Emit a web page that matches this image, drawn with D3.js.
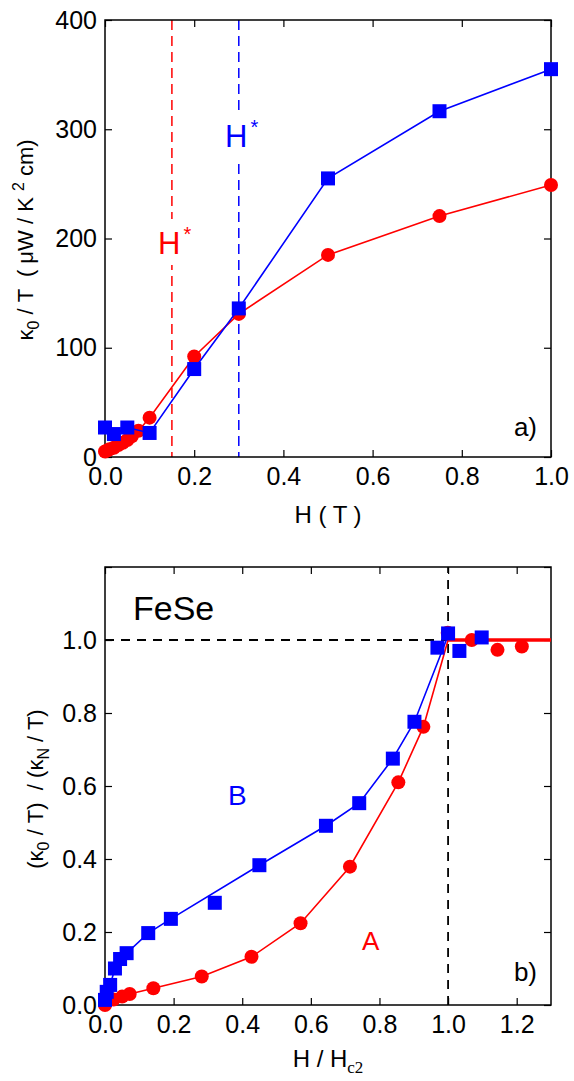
<!DOCTYPE html>
<html>
<head>
<meta charset="utf-8">
<title>FeSe thermal conductivity</title>
<script src="https://d3js.org/d3.v7.min.js"></script>
<style>
  body { margin: 0; background: #fff; }
  svg text { font-family: "Liberation Sans", Arial, sans-serif; white-space: pre; }
</style>
</head>
<body>
<svg width="574" height="1081"></svg>
<script>
// ---- panel a) : kappa0/T vs H (T) ----
var fieldA = [0, 0.005, 0.01, 0.02, 0.03, 0.04, 0.05, 0.06, 0.075, 0.1, 0.2, 0.3, 0.5, 0.75, 1.0];
var kappaA = [5, 6, 7, 8.5, 11, 13, 15.5, 19, 24, 36, 92, 131, 185, 220.5, 249];
var fieldB = [0, 0.02, 0.05, 0.1, 0.2, 0.3, 0.5, 0.75, 1.0];
var kappaB = [27, 21, 27, 22, 80.5, 136, 255, 316.5, 355];
var hStarA = 0.15, hStarB = 0.3;
var topXTicks = [0, 0.2, 0.4, 0.6, 0.8, 1.0];
var topYTicks = [0, 100, 200, 300, 400];

// ---- panel b) : normalised kappa0/T vs H/Hc2 ----
var hRedA = [0, 0.025, 0.05, 0.072, 0.141, 0.282, 0.427, 0.57, 0.714, 0.855, 0.928, 0.999, 1.069, 1.144, 1.215];
var ratioA = [0.0, 0.015, 0.023, 0.03, 0.046, 0.078, 0.132, 0.224, 0.379, 0.61, 0.762, 1.02, 1.0, 0.973, 0.982];
var hRedLine = [0, 0.05, 0.072, 0.141, 0.282, 0.427, 0.57, 0.714, 0.855, 0.928, 1.0];
var ratioLineA = [0, 0.023, 0.03, 0.046, 0.078, 0.132, 0.224, 0.379, 0.61, 0.762, 1.0];
var hNormal = [1.0, 1.3];
var ratioNormal = [1.0, 1.0];
var hBlueB = [0, 0.005, 0.015, 0.029, 0.044, 0.063, 0.126, 0.192, 0.32, 0.45, 0.644, 0.741, 0.839, 0.902, 0.969, 1.0, 1.033, 1.098];
var ratioB = [0.014, 0.036, 0.055, 0.10, 0.126, 0.142, 0.197, 0.236, 0.28, 0.383, 0.491, 0.553, 0.675, 0.776, 0.979, 1.018, 0.970, 1.007];
var hBlueLine = [0, 0.015, 0.029, 0.063, 0.126, 0.192, 0.45, 0.644, 0.741, 0.839, 0.902, 0.995];
var ratioLineB = [0, 0.055, 0.10, 0.142, 0.197, 0.236, 0.383, 0.491, 0.553, 0.675, 0.776, 1.0];
var botXTicks = [0, 0.2, 0.4, 0.6, 0.8, 1.0, 1.2];
var botYTicks = [0, 0.2, 0.4, 0.6, 0.8, 1.0, 1.2];

var RED = "#ff0000", BLUE = "#0000ff";
var svg = d3.select("svg");

function zip(xs, ys) { return xs.map(function(d, i) { return [d, ys[i]]; }); }

function frame(g, x, y, xt, yt, yfmt) {
  var w = x.range()[1] - x.range()[0], h = y.range()[0] - y.range()[1];
  var ax = g.append("g").attr("transform", "translate(0," + h + ")")
    .call(d3.axisBottom(x).tickValues(xt).tickSize(-7).tickPadding(10).tickFormat(d3.format(".1f")));
  var ay = g.append("g")
    .call(d3.axisLeft(y).tickValues(yt).tickSize(-7).tickPadding(8).tickFormat(yfmt));
  var at = g.append("g").call(d3.axisTop(x).tickValues(xt).tickSize(-7).tickFormat(""));
  var ar = g.append("g").attr("transform", "translate(" + w + ",0)")
    .call(d3.axisRight(y).tickValues(yt).tickSize(-7).tickFormat(""));
  [ax, ay, at, ar].forEach(function(a) {
    a.select(".domain").remove();
    a.selectAll("text").attr("font-size", 25).attr("fill", "#000")
      .attr("font-family", "Liberation Sans, Arial, sans-serif");
    a.selectAll("line").attr("stroke", "#000").attr("stroke-width", 1.2);
  });
  g.append("rect").attr("width", w).attr("height", h)
    .attr("fill", "none").attr("stroke", "#000").attr("stroke-width", 1.5);
}

function series(g, x, y, pts, color, width) {
  g.append("path").datum(pts)
    .attr("fill", "none").attr("stroke", color).attr("stroke-width", width)
    .attr("d", d3.line().x(function(d) { return x(d[0]); }).y(function(d) { return y(d[1]); }));
}
function circles(g, x, y, pts) {
  g.append("g").selectAll("circle").data(pts).enter().append("circle")
    .attr("cx", function(d) { return x(d[0]); }).attr("cy", function(d) { return y(d[1]); })
    .attr("r", 7).attr("fill", RED);
}
function squares(g, x, y, pts) {
  g.append("g").selectAll("rect").data(pts).enter().append("rect")
    .attr("x", function(d) { return x(d[0]) - 7; }).attr("y", function(d) { return y(d[1]) - 7; })
    .attr("width", 14).attr("height", 14).attr("fill", BLUE);
}
function hstar(g, xc, yb, color) {
  var t = g.append("text").attr("x", xc).attr("y", yb).attr("fill", color).attr("font-size", 31);
  t.append("tspan").text("H");
  t.append("tspan").attr("dx", 3).attr("dy", -13).attr("font-size", 20).text("*");
  var bb = t.node().getBBox();
  g.insert("rect", "text").attr("x", bb.x - 2).attr("y", bb.y - 4)
    .attr("width", bb.width + 4).attr("height", bb.height + 8).attr("fill", "#fff");
  g.node().appendChild(t.node());
}

// ===== panel a =====
var xa = d3.scaleLinear().domain([0, 1.0]).range([0, 446]);
var ya = d3.scaleLinear().domain([0, 400]).range([437, 0]);
var ga = svg.append("g").attr("transform", "translate(105,20)");

ga.append("line").attr("x1", xa(hStarA)).attr("x2", xa(hStarA)).attr("y1", 0).attr("y2", ya(0))
  .attr("stroke", RED).attr("stroke-width", 1.5).attr("stroke-dasharray", "10,6");
ga.append("line").attr("x1", xa(hStarB)).attr("x2", xa(hStarB)).attr("y1", 0).attr("y2", ya(0))
  .attr("stroke", BLUE).attr("stroke-width", 1.5).attr("stroke-dasharray", "10,6");
var la = ga.append("g");
hstar(la, 53, 234, RED);
hstar(la, 120, 127, BLUE);

frame(ga, xa, ya, topXTicks, topYTicks, d3.format("d"));

var redA = zip(fieldA, kappaA), blueA = zip(fieldB, kappaB);
series(ga, xa, ya, redA, RED, 1.6);
circles(ga, xa, ya, redA);
series(ga, xa, ya, blueA, BLUE, 1.6);
squares(ga, xa, ya, blueA);

ga.append("text").attr("x", 432).attr("y", 416).attr("text-anchor", "end")
  .attr("font-size", 26).text("a)");
ga.append("text").attr("x", 223).attr("y", 503).attr("text-anchor", "middle")
  .attr("font-size", 24).text("H ( T )");
var ta = ga.append("text").attr("transform", "translate(-72," + 220 + ") rotate(-90)")
  .attr("text-anchor", "middle").attr("font-size", 22);
ta.append("tspan").text("\u03ba");
ta.append("tspan").attr("dy", 6).attr("font-size", 16).text("0");
ta.append("tspan").attr("dy", -6).text(" / T  ( \u03bcW / K ");
ta.append("tspan").attr("dy", -9).attr("font-size", 16).text("2");
ta.append("tspan").attr("dy", 9).text(" cm)");

// ===== panel b =====
var xb = d3.scaleLinear().domain([0, 1.3]).range([0, 446]);
var yb = d3.scaleLinear().domain([0, 1.2]).range([438, 0]);
var gb = svg.append("g").attr("transform", "translate(105,567)");

gb.append("line").attr("x1", xb(0)).attr("x2", xb(1.0)).attr("y1", yb(1.0)).attr("y2", yb(1.0))
  .attr("stroke", "#000").attr("stroke-width", 1.8).attr("stroke-dasharray", "9,7");
gb.append("line").attr("x1", xb(1.0)).attr("x2", xb(1.0)).attr("y1", yb(0)).attr("y2", yb(1.2))
  .attr("stroke", "#000").attr("stroke-width", 1.8).attr("stroke-dasharray", "9,7");

frame(gb, xb, yb, botXTicks, botYTicks, function(d) { return d > 1.1 ? "" : d3.format(".1f")(d); });

series(gb, xb, yb, zip(hRedLine, ratioLineA), RED, 1.6);
series(gb, xb, yb, zip(hNormal, ratioNormal), RED, 3.5);
circles(gb, xb, yb, zip(hRedA, ratioA));
series(gb, xb, yb, zip(hBlueLine, ratioLineB), BLUE, 1.6);
squares(gb, xb, yb, zip(hBlueB, ratioB));

gb.append("text").attr("x", 28).attr("y", 53).attr("font-size", 34).text("FeSe");
gb.append("text").attr("x", 123).attr("y", 238).attr("fill", BLUE).attr("font-size", 28).text("B");
gb.append("text").attr("x", 257).attr("y", 383).attr("fill", RED).attr("font-size", 26).text("A");
gb.append("text").attr("x", 432).attr("y", 414).attr("text-anchor", "end")
  .attr("font-size", 26).text("b)");
var xtb = gb.append("text").attr("x", 223).attr("y", 500).attr("text-anchor", "middle").attr("font-size", 24);
xtb.append("tspan").text("H / H");
xtb.append("tspan").attr("dy", 6).attr("font-size", 17)
  .attr("font-family", "Liberation Serif, Times New Roman, serif").text("c2");
var tb = gb.append("text").attr("transform", "translate(-62," + 222 + ") rotate(-90)")
  .attr("text-anchor", "middle").attr("font-size", 22);
tb.append("tspan").text("(\u03ba");
tb.append("tspan").attr("dy", 6).attr("font-size", 16).text("0");
tb.append("tspan").attr("dy", -6).text(" / T)  / (\u03ba");
tb.append("tspan").attr("dy", 6).attr("font-size", 16).text("N");
tb.append("tspan").attr("dy", -6).text(" / T)");
</script>
</body>
</html>
